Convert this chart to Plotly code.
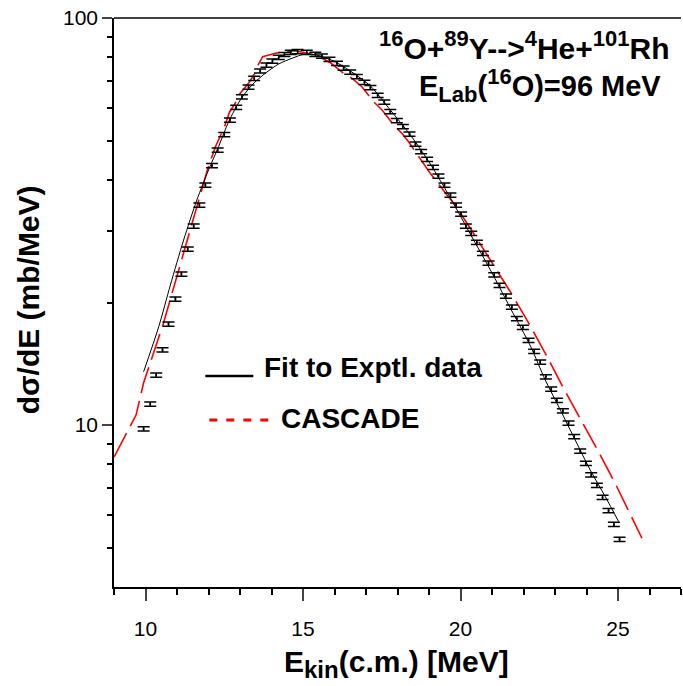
import plotly.graph_objects as go

# Experimental data (E_kin c.m. in MeV, dsigma/dE in mb/MeV)
exp_E = [9.94, 10.15, 10.34, 10.54, 10.73, 10.95, 11.14, 11.34, 11.53, 11.71,
         11.90, 12.11, 12.29, 12.50, 12.68, 12.88, 13.06, 13.27, 13.45, 13.64,
         13.84, 14.03, 14.23, 14.41, 14.61, 14.83, 15.12, 15.39, 15.60, 15.84,
         16.08, 16.29, 16.50, 16.71, 16.95, 17.14, 17.37, 17.58, 17.77, 17.98,
         18.17, 18.38, 18.57, 18.75, 18.94, 19.13, 19.30, 19.49, 19.68, 19.86,
         20.02, 20.17, 20.34, 20.52, 20.71, 20.89, 21.07, 21.24, 21.44, 21.63,
         21.79, 21.98, 22.16, 22.34, 22.53, 22.71, 22.88, 23.06, 23.25, 23.43,
         23.61, 23.80, 23.98, 24.15, 24.33, 24.51, 24.70, 24.87, 25.05]
exp_Y = [9.78, 11.26, 13.27, 15.29, 17.71, 20.40, 23.50, 27.06, 30.83, 34.71,
         38.88, 43.37, 47.39, 51.73, 56.15, 60.29, 63.97, 67.61, 71.03, 74.10,
         76.65, 78.40, 80.06, 81.35, 82.37, 82.65, 82.28, 81.44, 80.66, 79.16,
         77.40, 75.36, 73.68, 71.76, 69.50, 67.41, 64.58, 62.17, 58.85, 55.93,
         54.06, 51.88, 49.02, 46.94, 44.96, 42.98, 40.91, 38.88, 36.74, 34.71,
         32.99, 30.83, 29.58, 28.11, 26.42, 25.00, 23.37, 22.04, 20.75, 19.49,
         18.25, 17.38, 16.15, 15.18, 14.28, 13.14, 12.26, 11.49, 10.83, 10.11,
         9.36, 8.63, 8.05, 7.54, 7.11, 6.64, 6.16, 5.70, 5.24]

# Fit to experimental data
fit_E = [9.94, 10.42, 10.79, 11.21, 11.63, 12.00, 12.32, 12.64, 13.01, 13.38,
         13.80, 14.23, 14.65, 15.07, 15.55, 16.03, 16.50, 17.14, 17.77, 18.41,
         19.04, 19.68, 20.31, 20.95, 21.58, 22.22, 22.69, 23.17, 23.64, 24.12,
         24.60, 25.02]
fit_Y = [13.52, 17.44, 22.08, 28.48, 35.71, 42.32, 48.29, 55.63, 62.89, 68.45,
         73.12, 77.09, 79.62, 81.57, 80.66, 77.97, 74.10, 68.06, 59.43, 51.58,
         43.79, 36.12, 29.47, 24.03, 19.39, 15.64, 12.90, 10.89, 9.19, 7.75,
         6.66, 5.79]

# CASCADE calculation
cas_E = [9.00, 9.70, 9.94, 10.57, 11.10, 11.63, 11.98, 12.22, 12.50, 12.67,
         12.83, 12.96, 13.27, 13.49, 13.59, 13.72, 14.12, 14.44, 14.76, 15.23,
         15.55, 15.87, 16.29, 16.56, 16.87, 17.24, 17.51, 17.88, 18.14, 18.35,
         19.04, 19.57, 19.83, 20.31, 20.95, 21.58, 22.11, 22.75, 23.27, 23.86,
         24.38, 24.91, 25.39, 25.76]
cas_Y = [8.34, 10.58, 12.70, 17.78, 24.73, 34.71, 42.73, 48.29, 53.87, 58.85,
         61.38, 64.69, 69.11, 73.56, 77.09, 80.34, 81.91, 82.65, 83.13, 81.57,
         80.06, 77.67, 73.12, 71.10, 67.80, 62.27, 59.43, 54.58, 52.08, 49.67,
         41.53, 36.74, 34.71, 30.43, 25.43, 21.26, 18.11, 14.72, 12.31, 10.19,
         8.60, 7.19, 6.01, 5.27]

x_major = [10, 15, 20, 25]
y_major = [10, 100]
y_major_text = ["10", "100"]
y_minor = [5, 6, 7, 8, 9, 20, 30, 40, 50, 60, 70, 80, 90]

FONT = "Liberation Sans, Arial, sans-serif"

fig = go.Figure()

fig.add_trace(go.Scatter(
    x=cas_E, y=cas_Y, mode="lines",
    line=dict(color="#ff0000", width=1.6, dash="27px,8px"),
    showlegend=False))

fig.add_trace(go.Scatter(
    x=fit_E, y=fit_Y, mode="lines",
    line=dict(color="black", width=1, shape="spline", smoothing=0.8),
    showlegend=False))

fig.add_trace(go.Scatter(
    x=exp_E, y=exp_Y, mode="markers",
    marker=dict(color="black", size=2),
    error_y=dict(type="percent", value=1.2, width=6, thickness=1.5, color="black"),
    showlegend=False))

fig.update_layout(
    width=683, height=686,
    margin=dict(l=114, r=2, t=18, b=99),
    paper_bgcolor="white", plot_bgcolor="white",
    font=dict(family=FONT, color="black"),
    xaxis=dict(
        range=[9, 27], tickvals=x_major, ticks="outside", ticklen=12, tickwidth=1.5,
        ticklabelstandoff=10,
        showline=True, linewidth=1.5, linecolor="black", showgrid=False, zeroline=False,
        tickfont=dict(size=21, family=FONT, color="black"),
        minor=dict(dtick=1, tick0=0, ticks="outside", ticklen=6, tickwidth=1.5, tickcolor="black"),
    ),
    yaxis=dict(
        type="log", range=[0.60206, 2], tickvals=y_major, ticktext=y_major_text,
        ticks="outside", ticklen=10, tickwidth=1.5,
        showline=True, linewidth=1.5, linecolor="black", showgrid=False, zeroline=False,
        tickfont=dict(size=21, family=FONT, color="black"),
        minor=dict(tickvals=y_minor, ticks="outside", ticklen=5, tickwidth=1.5, tickcolor="black"),
    ),
)

# top border
fig.add_shape(type="line", xref="paper", yref="paper", x0=0, x1=1, y0=1, y1=1,
              line=dict(color="black", width=1.5))

# legend samples
fig.add_shape(type="line", xref="paper", yref="paper", x0=0.1610, x1=0.2457, y0=0.3708, y1=0.3708,
              line=dict(color="black", width=2.5))
fig.add_shape(type="line", xref="paper", yref="paper", x0=0.1681, x1=0.2757, y0=0.2935, y1=0.2935,
              line=dict(color="#ff0000", width=3, dash="8px,9px"))

def sup(t):
    return "<sup><span style='font-size:22px'>%s</span></sup>" % t

ann = [
    dict(text="<b>%sO+%sY-->%sHe+%sRh</b>" % (sup("16"), sup("89"), sup("4"), sup("101")),
         x=0.9847, y=0.9525, xanchor="right", yanchor="middle", size=30),
    dict(text="<b>E<sub><span style='font-size:22px'>Lab</span></sub>(%sO)=96 MeV</b>" % sup("16"),
         x=0.9688, y=0.8822, xanchor="right", yanchor="middle", size=29),
    dict(text="<b>Fit to Exptl. data</b>", x=0.2615, y=0.3866, xanchor="left", yanchor="middle", size=28),
    dict(text="<b>CASCADE</b>", x=0.2915, y=0.297, xanchor="left", yanchor="middle", size=28),
]
for a in ann:
    s = a.pop("size")
    fig.add_annotation(xref="paper", yref="paper", showarrow=False,
                       font=dict(size=s, family=FONT, color="black"), **a)

# axis titles
fig.add_annotation(text="<b>E<sub><span style='font-size:24px'>kin</span></sub>(c.m.) [MeV]</b>",
                   xref="paper", yref="paper",
                   x=(396 - 113.7) / 567, y=(587 - 664) / 569, xanchor="center", yanchor="middle",
                   showarrow=False, font=dict(size=30, family=FONT, color="black"))
fig.add_annotation(text="<b>d\u03c3/dE (mb/MeV)</b>", xref="paper", yref="paper",
                   x=(28 - 113.7) / 567, y=(587 - 300) / 569, xanchor="center", yanchor="middle",
                   textangle=-90, showarrow=False, font=dict(size=30, family=FONT, color="black"))

fig.write_html("out.html")
